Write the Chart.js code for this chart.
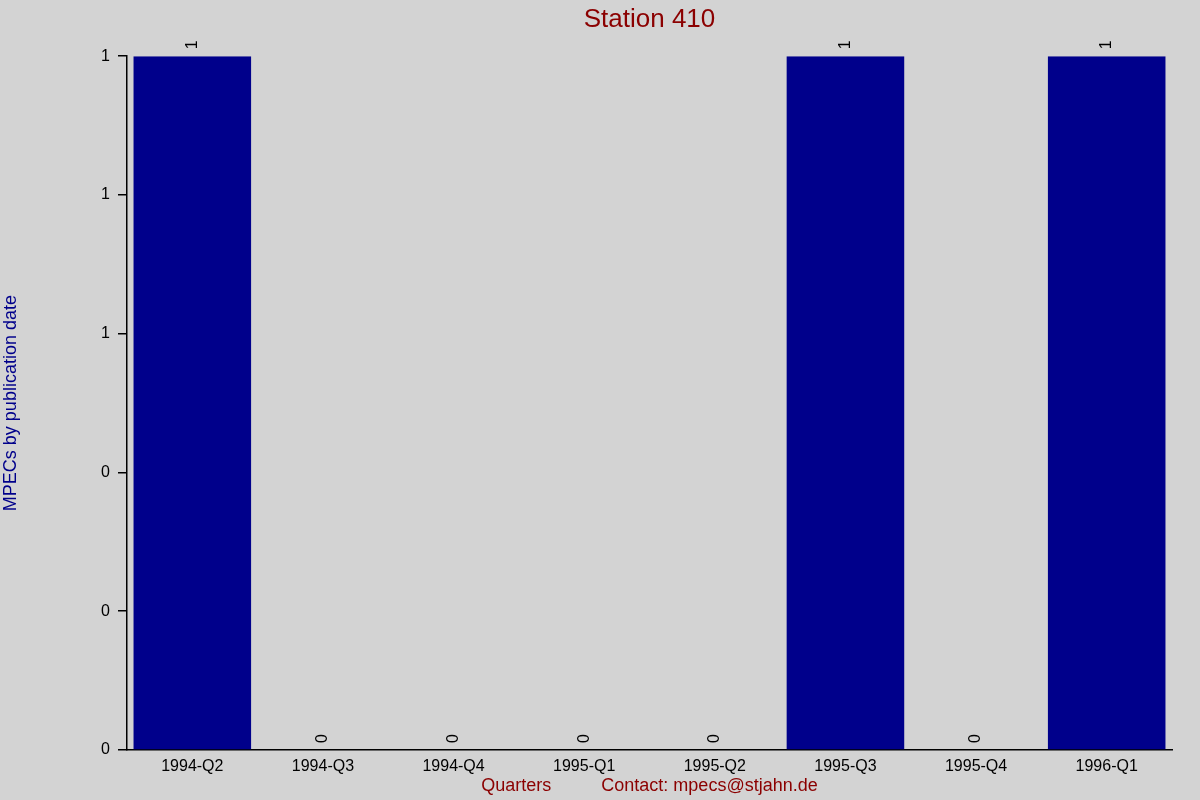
<!DOCTYPE html>
<html>
<head>
<meta charset="utf-8">
<script src="https://cdn.jsdelivr.net/npm/chart.js@4/dist/chart.umd.min.js"></script>
<style>
  html, body { margin: 0; padding: 0; background: #d3d3d3; }
  canvas { display: block; }
</style>
</head>
<body>
<canvas id="c" width="1200" height="800"></canvas>
<script>
const categories = ["1994-Q2", "1994-Q3", "1994-Q4", "1995-Q1", "1995-Q2", "1995-Q3", "1995-Q4", "1996-Q1"];
const mpecCounts = [1, 0, 0, 0, 0, 1, 0, 1];
const yTickValues = [0, 0.2, 0.4, 0.6, 0.8, 1];
const chartTitle = "Station 410";
const yAxisTitle = "MPECs by publication date";
const xAxisTitle = "Quarters          Contact: mpecs@stjahn.de";

const FONT = "'Liberation Sans', Arial, 'DejaVu Sans', sans-serif";

const bgPlugin = {
  id: 'bg',
  beforeDraw(chart) {
    const ctx = chart.ctx;
    ctx.save();
    ctx.fillStyle = '#d3d3d3';
    ctx.fillRect(0, 0, chart.width, chart.height);
    ctx.restore();
  }
};

// center the title over the plot area instead of the full canvas
const titleOverPlot = {
  id: 'titleOverPlot',
  afterLayout(chart) {
    const t = chart.titleBlock;
    if (t) {
      t.left = chart.chartArea.left;
      t.right = chart.chartArea.right;
      t.width = t.right - t.left;
    }
  }
};

const valueLabels = {
  id: 'valueLabels',
  afterDatasetsDraw(chart) {
    const ctx = chart.ctx;
    const meta = chart.getDatasetMeta(0);
    const data = chart.data.datasets[0].data;
    ctx.save();
    ctx.fillStyle = '#000000';
    ctx.font = '16px ' + FONT;
    ctx.textAlign = 'left';
    ctx.textBaseline = 'middle';
    meta.data.forEach((bar, i) => {
      ctx.save();
      ctx.translate(bar.x, bar.y - 7);
      ctx.rotate(-Math.PI / 2);
      ctx.fillText(String(data[i]), 0, 0);
      ctx.restore();
    });
    ctx.restore();
  }
};

new Chart(document.getElementById('c'), {
  type: 'bar',
  data: {
    labels: categories,
    datasets: [{
      data: mpecCounts,
      backgroundColor: '#00008b',
      borderWidth: 0,
      barPercentage: 0.9,
      categoryPercentage: 1.0
    }]
  },
  options: {
    responsive: false,
    animation: false,
    devicePixelRatio: 1,
    layout: { padding: { left: 0, right: 28, top: 0, bottom: 0 } },
    plugins: {
      legend: { display: false },
      tooltip: { enabled: false },
      title: {
        display: true,
        text: chartTitle,
        color: '#8b0000',
        font: { family: FONT, size: 26, weight: 'normal' },
        padding: { top: 4, bottom: 21 }
      }
    },
    scales: {
      x: {
        grid: { display: false, drawTicks: false },
        border: { display: true, color: '#000000', width: 1.5 },
        ticks: {
          color: '#000000',
          font: { family: FONT, size: 16 },
          padding: 7,
          maxRotation: 0,
          autoSkip: false
        },
        title: {
          display: true,
          text: xAxisTitle,
          color: '#8b0000',
          font: { family: FONT, size: 18 },
          padding: { top: 0, bottom: 3 }
        },
        afterFit(scale) { scale.height = 50; }
      },
      y: {
        min: 0,
        max: 1,
        afterBuildTicks(scale) {
          scale.ticks = yTickValues.map(v => ({ value: v }));
        },
        grid: {
          display: true,
          drawOnChartArea: false,
          drawTicks: true,
          tickLength: 9,
          color: '#000000',
          lineWidth: 1.5
        },
        border: { display: true, color: '#000000', width: 1.5 },
        ticks: {
          color: '#000000',
          font: { family: FONT, size: 16 },
          padding: 8,
          callback: (v) => String(Math.round(v))
        },
        title: {
          display: true,
          text: yAxisTitle,
          color: '#00008b',
          font: { family: FONT, size: 18 },
          padding: { top: 0, bottom: 0 }
        },
        afterFit(scale) { scale.width = 127; }
      }
    }
  },
  plugins: [bgPlugin, titleOverPlot, valueLabels]
});
</script>
</body>
</html>
